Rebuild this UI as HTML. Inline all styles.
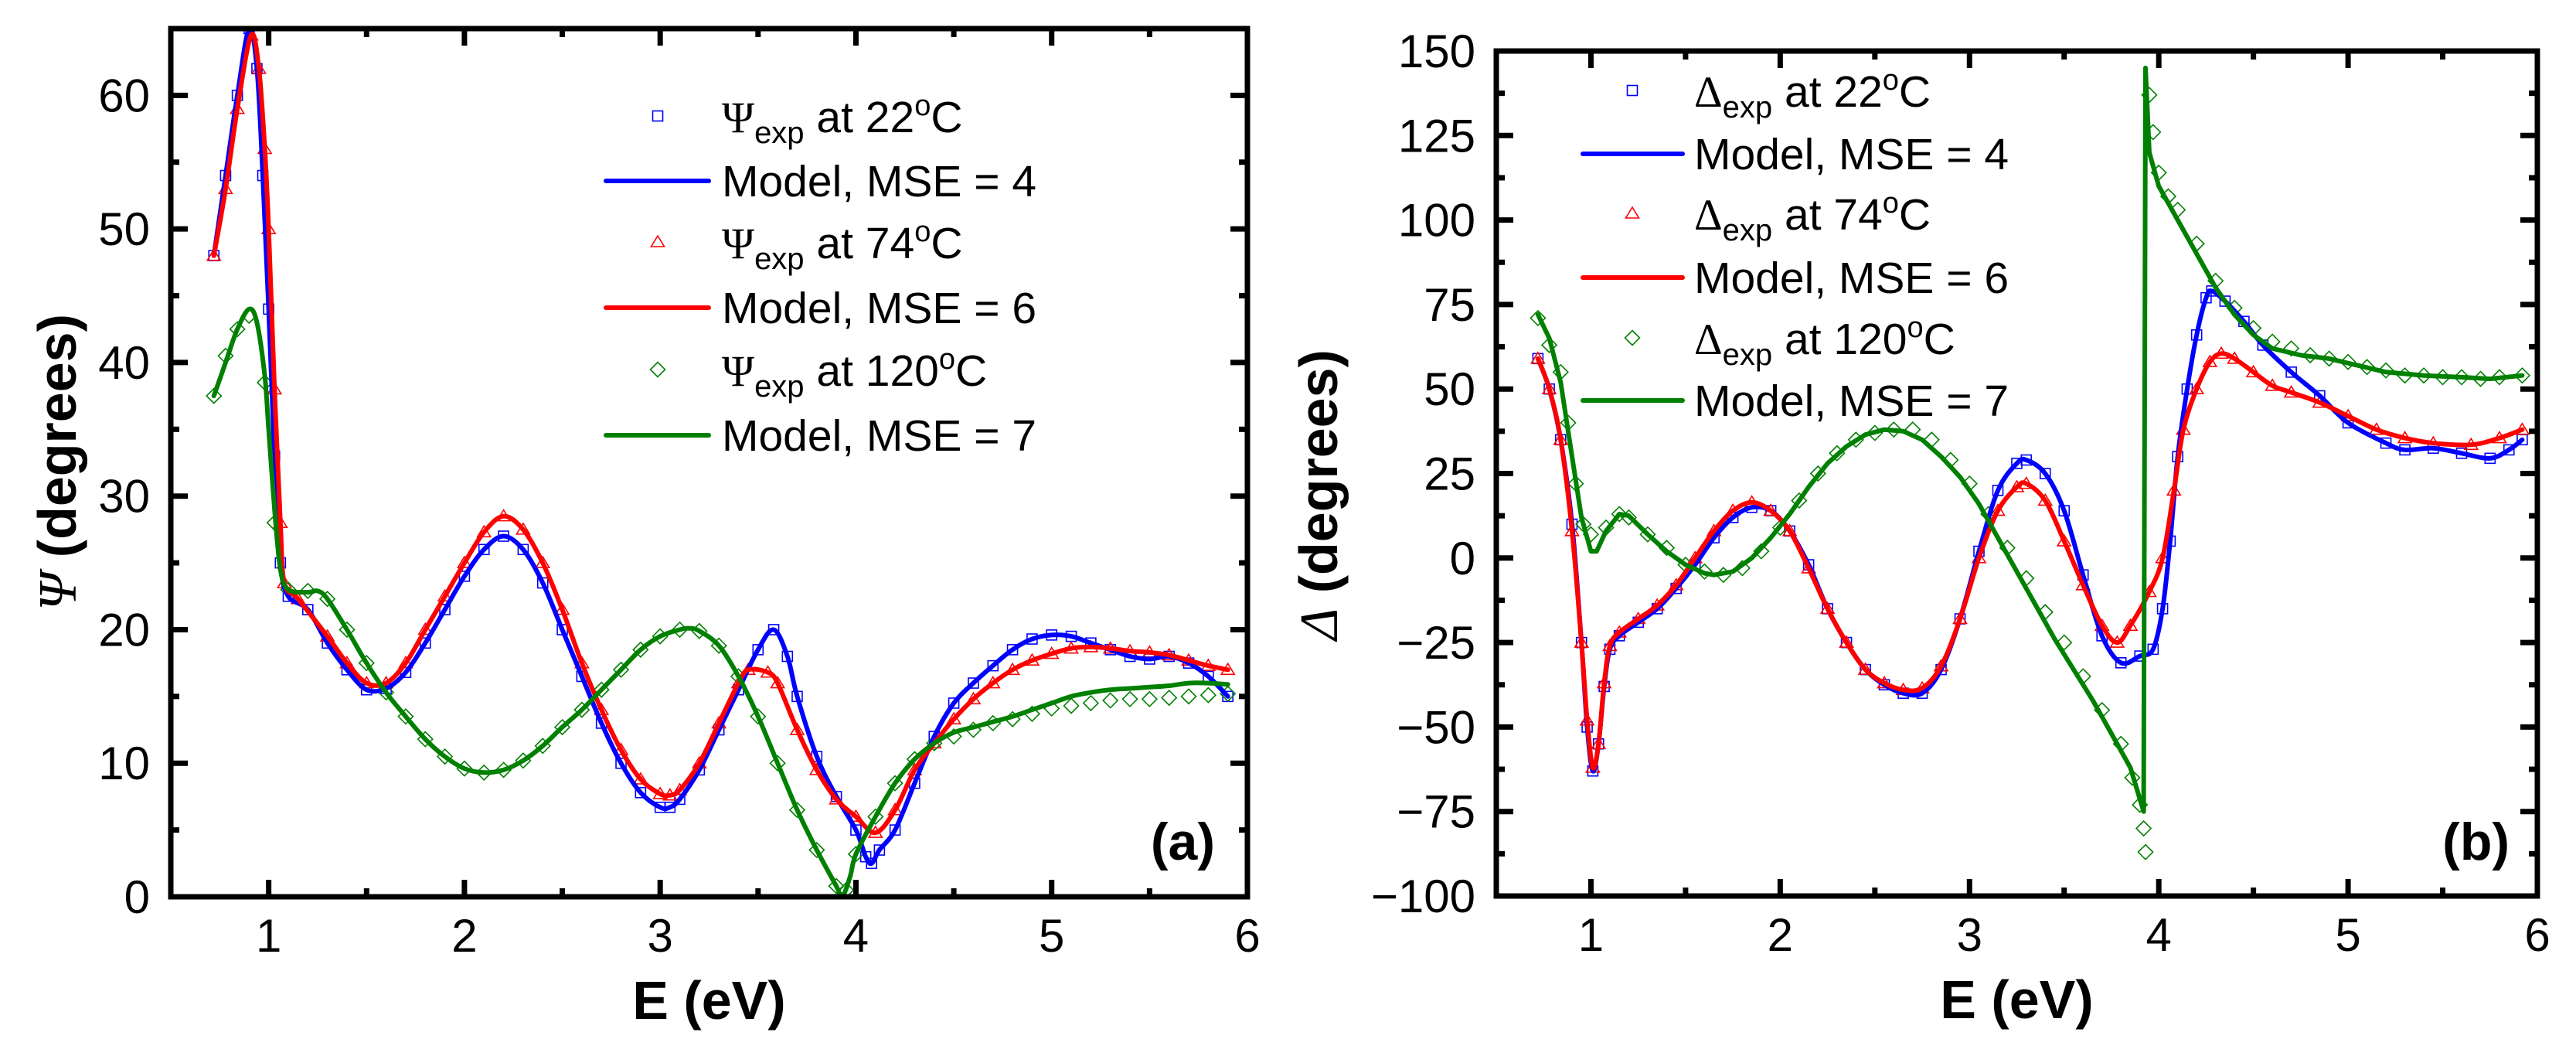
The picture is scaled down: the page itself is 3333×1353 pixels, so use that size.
<!DOCTYPE html>
<html><head><meta charset="utf-8"><title>Ellipsometry Psi and Delta</title>
<style>
html,body{margin:0;padding:0;background:#fff;}
svg{display:block;}
text{font-family:"Liberation Sans",Arial,sans-serif;fill:#000;}
</style></head>
<body>
<svg id="chart" xmlns="http://www.w3.org/2000/svg" width="3333" height="1353" viewBox="0 0 3333 1353"></svg>
<script>
// ---------- Panel (a) data: Psi ----------
const psiE22 = [0.72,0.78,0.84,0.90,0.94,0.97,1.0,1.03,1.06,1.1,1.2,1.3,1.4,1.5,1.6,1.7,1.8,1.9,2.0,2.1,2.2,2.3,2.4,2.5,2.6,2.7,2.8,2.9,3.0,3.05,3.1,3.2,3.3,3.4,3.5,3.58,3.65,3.7,3.8,3.9,4.0,4.05,4.08,4.12,4.2,4.3,4.4,4.5,4.6,4.7,4.8,4.9,5.0,5.1,5.2,5.3,5.4,5.5,5.6,5.7,5.8,5.9];
const psi22 = [48,54,60,65,62,54,44,33,25,22.5,21.5,19,17,15.5,15.6,16.8,19,21.5,24,26,27,26,23.5,20,16.5,13,10,7.8,6.7,6.7,7.3,9.5,12.5,15.5,18.5,20,18,15,10.5,7.5,5,3,2.5,3.5,5,8.5,12,14.5,16,17.3,18.5,19.3,19.6,19.5,19,18.5,18,17.8,18,17.5,16.5,15];
const psiE74 = [0.72,0.78,0.84,0.91,0.95,0.98,1.0,1.03,1.06,1.08,1.15,1.3,1.4,1.5,1.6,1.7,1.8,1.9,2.0,2.1,2.2,2.3,2.4,2.5,2.6,2.7,2.8,2.9,3.0,3.05,3.1,3.2,3.3,3.4,3.45,3.55,3.6,3.7,3.8,3.9,4.0,4.1,4.2,4.3,4.4,4.5,4.6,4.7,4.8,4.9,5.0,5.1,5.2,5.3,5.4,5.5,5.6,5.7,5.8,5.9];
const psi74 = [48,53,59,64.5,62,56,50,38,28,23.5,22.3,19.5,17.5,16,16,17.5,20,22.5,25,27.3,28.5,27.5,25,21.5,17.5,14,11,8.8,7.7,7.6,8,10,13,16,17,16.8,16,12.5,9.5,7.3,6,4.8,6.5,9.5,11.5,13.3,14.8,16,17,17.7,18.2,18.6,18.7,18.6,18.4,18.3,18.1,17.7,17.3,17];
const psiE120 = [0.72,0.78,0.84,0.9,0.94,0.98,1.0,1.03,1.06,1.1,1.2,1.25,1.3,1.4,1.5,1.6,1.7,1.8,1.9,2.0,2.1,2.2,2.3,2.4,2.5,2.6,2.7,2.8,2.9,3.0,3.1,3.15,3.2,3.3,3.4,3.5,3.6,3.7,3.8,3.9,3.93,3.97,4.0,4.1,4.2,4.3,4.4,4.5,4.6,4.7,4.8,4.9,5.0,5.1,5.2,5.3,5.4,5.5,5.6,5.7,5.8,5.9];
const psi120 = [37.5,40,42.5,44,43,39,35,29,24.5,23,22.8,22.9,22.3,20,17.5,15.3,13.5,11.8,10.5,9.6,9.3,9.5,10.2,11.3,12.7,14,15.5,17,18.5,19.5,20,20.1,19.9,18.8,16.5,13.5,10,6.5,3.5,0.8,0,1.5,3.2,6,8.5,10.3,11.5,12.3,12.7,13.1,13.5,14,14.5,15,15.3,15.5,15.6,15.7,15.8,16,16,15.9];
const psiExpE120 = [0.72,0.78,0.84,0.9,0.98,1.03,1.1,1.2,1.3,1.4,1.5,1.6,1.7,1.8,1.9,2.0,2.1,2.2,2.3,2.4,2.5,2.6,2.7,2.8,2.9,3.0,3.1,3.2,3.3,3.4,3.5,3.6,3.7,3.8,3.9,3.95,4.0,4.1,4.2,4.3,4.4,4.5,4.6,4.7,4.8,4.9,5.0,5.1,5.2,5.3,5.4,5.5,5.6,5.7,5.8,5.9];
const psiExp120 = [37.5,40.5,42.5,43.5,38.5,28,23,22.9,22.3,20,17.5,15.3,13.5,11.8,10.5,9.6,9.3,9.5,10.2,11.3,12.7,14,15.5,17,18.5,19.5,20,19.9,18.8,16.5,13.5,10,6.5,3.5,0.8,0.5,3.2,6,8.5,10.3,11.5,12,12.5,13,13.3,13.7,14.1,14.3,14.5,14.7,14.8,14.8,14.9,15,15.1,15.2];

// ---------- Panel (b) data: Delta ----------
const delE22 = [0.72,0.78,0.84,0.9,0.95,0.98,1.01,1.04,1.07,1.1,1.15,1.25,1.35,1.45,1.55,1.65,1.75,1.85,1.95,2.05,2.15,2.25,2.35,2.45,2.55,2.65,2.75,2.85,2.95,3.05,3.15,3.25,3.3,3.4,3.5,3.6,3.7,3.8,3.9,3.97,4.02,4.06,4.1,4.15,4.2,4.25,4.28,4.35,4.45,4.55,4.7,4.85,5.0,5.2,5.3,5.45,5.6,5.75,5.85,5.92];
const del22 = [59,50,35,10,-25,-50,-63,-55,-38,-27,-23,-19,-15,-9,-2,6,12,15,14,8,-2,-15,-25,-33,-37.5,-40,-40,-33,-18,2,20,28,29,25,14,-5,-23,-31,-29,-27,-15,5,30,50,66,77,79,76,70,63,55,48,40,34,32,32.5,31,29.5,32,35];
const delE74 = [0.72,0.78,0.84,0.9,0.95,0.98,1.01,1.04,1.07,1.1,1.15,1.25,1.35,1.45,1.55,1.65,1.75,1.85,1.95,2.05,2.15,2.25,2.35,2.45,2.55,2.65,2.75,2.85,2.95,3.05,3.15,3.25,3.3,3.4,3.5,3.6,3.7,3.78,3.85,3.95,4.02,4.08,4.13,4.2,4.27,4.33,4.4,4.5,4.6,4.7,4.85,5.0,5.15,5.3,5.45,5.65,5.8,5.92];
const del74 = [59,50,35,8,-25,-48,-62,-55,-37,-26,-22,-18,-14,-8,0,8,14,16.5,14,8,-3,-15,-25,-33,-37,-39,-38.5,-32,-18,0,14,21,22,17,5,-8,-20,-25,-20,-10,0,20,38,50,58,60.5,59,55,51,49,46,42,38,35.5,34,33.5,35.5,38];
const delE120 = [0.72,0.78,0.84,0.9,0.95,1.0,1.03,1.08,1.15,1.2,1.3,1.4,1.5,1.6,1.65,1.75,1.85,1.95,2.05,2.15,2.25,2.35,2.45,2.55,2.65,2.75,2.85,2.95,3.05,3.15,3.25,3.35,3.45,3.55,3.65,3.75,3.85,3.92,3.93,3.95,4.0,4.1,4.2,4.3,4.4,4.5,4.6,4.75,4.9,5.05,5.2,5.4,5.6,5.75,5.92];
const del120 = [72,65,52,30,12,2,2,8,13,12.5,7,2,-2,-4.5,-5,-4,0,6,13,21,28,33,36.5,38,37.5,35,30,24,16,6,-4,-14,-24,-33,-42,-52,-62,-75,145,120,110,100,90,80,72,66,62,60,59,57,55,54,53.5,53,54];
const delExpE120 = [0.72,0.78,0.84,0.88,0.92,0.96,1.0,1.08,1.15,1.2,1.3,1.4,1.5,1.6,1.7,1.8,1.9,2.0,2.1,2.2,2.3,2.4,2.5,2.6,2.7,2.8,2.9,3.0,3.1,3.2,3.3,3.4,3.5,3.6,3.7,3.8,3.86,3.9,3.92,3.93,3.95,3.97,4.0,4.05,4.1,4.2,4.3,4.4,4.5,4.6,4.7,4.8,4.9,5.0,5.1,5.2,5.3,5.4,5.5,5.6,5.7,5.8,5.92];
const delExp120 = [71,63,55,40,22,10,7,9,13,12,7,3,-2,-4,-5,-3,2,9,17,25,31,35,37,38,38,35,29,22,13,3,-6,-16,-25,-35,-45,-55,-65,-73,-80,-87,137,126,114,107,103,93,82,74,68,64,62,60,59,58,56.5,55.5,54,54,53.5,53.5,53,53.5,54];

// ---------- Axis tick values ----------
const xTicks = [1,2,3,4,5,6];
const psiTicks = [0,10,20,30,40,50,60];
const delTicks = [-100,-75,-50,-25,0,25,50,75,100,125,150];

const NS = 'http://www.w3.org/2000/svg';
const svg = document.getElementById('chart');
function mk(tag, attrs, parent){
  const el = document.createElementNS(NS, tag);
  for (const k in attrs) el.setAttribute(k, attrs[k]);
  (parent||svg).appendChild(el);
  return el;
}
function axisFns(p){
  return {
    x: e => p.left + (e - p.xmin) / (p.xmax - p.xmin) * (p.right - p.left),
    y: v => p.bottom - (v - p.ymin) / (p.ymax - p.ymin) * (p.bottom - p.top)
  };
}
function smoothPath(pts){
  let d = 'M' + pts[0][0].toFixed(1) + ',' + pts[0][1].toFixed(1);
  for (let i = 0; i < pts.length - 1; i++){
    const p0 = pts[i-1] || pts[i], p1 = pts[i], p2 = pts[i+1], p3 = pts[i+2] || p2;
    const c1 = [p1[0] + (p2[0]-p0[0])/6, p1[1] + (p2[1]-p0[1])/6];
    const c2 = [p2[0] - (p3[0]-p1[0])/6, p2[1] - (p3[1]-p1[1])/6];
    d += 'C' + c1[0].toFixed(1)+','+c1[1].toFixed(1)+' '+c2[0].toFixed(1)+','+c2[1].toFixed(1)+' '+p2[0].toFixed(1)+','+p2[1].toFixed(1);
  }
  return d;
}
function linPath(pts){
  return 'M' + pts.map(p => p[0].toFixed(1)+','+p[1].toFixed(1)).join('L');
}
function marker(g, type, cx, cy, color){
  let el;
  if (type === 'square'){
    el = mk('rect', {x: cx-6.5, y: cy-6.5, width: 13, height: 13, fill: 'none', stroke: color, 'stroke-width': 1.6}, g);
  } else if (type === 'triangle'){
    el = mk('polygon', {points: `${cx},${cy-8} ${cx-8.5},${cy+6} ${cx+8.5},${cy+6}`, fill: 'none', stroke: color, 'stroke-width': 1.6}, g);
  } else {
    el = mk('polygon', {points: `${cx},${cy-9.5} ${cx+9.5},${cy} ${cx},${cy+9.5} ${cx-9.5},${cy}`, fill: 'none', stroke: color, 'stroke-width': 1.6}, g);
  }
  return el;
}

function drawPanel(p){
  const A = axisFns(p);
  const g = mk('g', {});
  
  
  // clip
  const cid = 'clip-' + p.name;
  const cp = mk('clipPath', {id: cid}, g);
  mk('rect', {x: p.left, y: p.top, width: p.right - p.left, height: p.bottom - p.top}, cp);
  const plot = mk('g', {'clip-path': `url(#${cid})`}, g);
  
  

  // series: markers then lines
  p.series.forEach(s => {
    const mg = mk('g', {}, plot);
    
    
    for (let i = 0; i < s.expE.length; i++){
      const m = marker(mg, s.marker, A.x(s.expE[i]), A.y(s.expV[i]), s.color);
      
      
    }
  });
  p.series.forEach(s => {
    const pts = s.E.map((e, i) => [A.x(e), A.y(s.V[i])]);
    const path = mk('path', {d: s.linear ? linPath(pts) : smoothPath(pts), fill: 'none', stroke: s.color, 'stroke-width': 6, 'stroke-linejoin': 'round', 'stroke-linecap': 'round'}, plot);
    
    
  });

  // frame
  const fr = mk('rect', {x: p.left, y: p.top, width: p.right - p.left, height: p.bottom - p.top, fill: 'none', stroke: '#000', 'stroke-width': 7}, g);
  
  

  // x ticks
  const xt = mk('g', {}, g);
  
  
  for (let v = p.xmin; v <= p.xmax + 1e-9; v += 0.5){
    const isMajor = Math.abs(v - Math.round(v)) < 1e-9;
    const len = isMajor ? 22 : 11;
    const x = A.x(v);
    mk('line', {x1: x, y1: p.bottom, x2: x, y2: p.bottom - len, stroke: '#000', 'stroke-width': 7}, xt);
    mk('line', {x1: x, y1: p.top, x2: x, y2: p.top + len, stroke: '#000', 'stroke-width': 7}, xt);
  }
  xTicks.forEach(v => {
    const t = mk('text', {x: A.x(v), y: p.bottom + 71, 'text-anchor': 'middle', 'font-size': 60}, g);
    t.textContent = v;
    
    
  });
  // y ticks
  const yt = mk('g', {}, g);
  
  
  const step = p.yTicks[1] - p.yTicks[0];
  for (let v = p.ymin; v <= p.ymax + 1e-9; v += step / 2){
    const isMajor = p.yTicks.some(t => Math.abs(t - v) < 1e-9);
    const len = isMajor ? 22 : 11;
    const y = A.y(v);
    mk('line', {x1: p.left, y1: y, x2: p.left + len, y2: y, stroke: '#000', 'stroke-width': 7}, yt);
    mk('line', {x1: p.right, y1: y, x2: p.right - len, y2: y, stroke: '#000', 'stroke-width': 7}, yt);
  }
  p.yTicks.forEach(v => {
    const t = mk('text', {x: p.left - 27, y: A.y(v) + 21, 'text-anchor': 'end', 'font-size': 60}, g);
    t.textContent = v < 0 ? '\u2212' + Math.abs(v) : String(v);
    
    
  });
  // axis titles
  const xtitle = mk('text', {x: (p.left + p.right) / 2, y: p.bottom + 158, 'text-anchor': 'middle', 'font-size': 70, 'font-weight': 'bold'}, g);
  xtitle.textContent = 'E (eV)';
  
  
  const ytitle = mk('text', {x: 0, y: 0, 'text-anchor': 'middle', 'font-size': 70, 'font-weight': 'bold', transform: `translate(${p.ytitleX},${p.ytitleY}) rotate(-90)`}, g);
  const sym = mk('tspan', {'font-family': '"Liberation Serif", serif', 'font-weight': 'normal', 'font-style': 'italic'}, ytitle);
  sym.textContent = p.sym;
  const rest = mk('tspan', {}, ytitle);
  rest.textContent = ' (degrees)';
  
  
  // panel label
  const pl = mk('text', {x: p.labelX, y: 1112, 'text-anchor': 'end', 'font-size': 68, 'font-weight': 'bold'}, g);
  pl.textContent = p.label;
  
  

  // legend
  const lg = mk('g', {}, g);
  
  
  p.series.forEach((s, i) => {
    const yM = p.legY[2*i], yL = p.legY[2*i+1];
    const e1 = mk('g', {}, lg);
    
    
    marker(e1, s.marker, p.legMX, yM, s.color);
    const t1 = mk('text', {x: p.legTX, y: yM + 21, 'font-size': 57}, e1);
    const a = mk('tspan', {'font-family': '"Liberation Serif", serif'}, t1); a.textContent = p.sym;
    const b = mk('tspan', {'font-size': 40, dy: 14}, t1); b.textContent = 'exp';
    const c = mk('tspan', {dy: -14}, t1); c.textContent = ' at ' + s.temp;
    const d = mk('tspan', {'font-size': 38, dy: -22}, t1); d.textContent = 'o';
    const e = mk('tspan', {dy: 22}, t1); e.textContent = 'C';
    const e2 = mk('g', {}, lg);
    
    
    mk('line', {x1: p.legL1, y1: yL, x2: p.legL2, y2: yL, stroke: s.color, 'stroke-width': 6, 'stroke-linecap': 'round'}, e2);
    const t2 = mk('text', {x: p.legTX, y: yL + 20, 'font-size': 57}, e2);
    t2.textContent = 'Model, MSE = ' + s.mse;
  });
}

drawPanel({
  name: 'panel-a-psi', left: 221, right: 1614, top: 37, bottom: 1160,
  xmin: 0.5, xmax: 6, ymin: 0, ymax: 65, yTicks: psiTicks, sym: '\u03A8',
  ytitleX: 98, ytitleY: 598, label: '(a)', labelX: 1572,
  legMX: 851, legL1: 784, legL2: 917, legTX: 934, legY: [150,234,313,398,478,563],
  series: [
    {key: 'psi-22c', temp: '22', mse: 4, color: '#0000ff', marker: 'square', E: psiE22, V: psi22, expE: psiE22, expV: psi22},
    {key: 'psi-74c', temp: '74', mse: 6, color: '#ff0000', marker: 'triangle', E: psiE74, V: psi74, expE: psiE74, expV: psi74},
    {key: 'psi-120c', temp: '120', mse: 7, color: '#008000', marker: 'diamond', E: psiE120, V: psi120, expE: psiExpE120, expV: psiExp120}
  ]
});
drawPanel({
  name: 'panel-b-delta', left: 1936, right: 3283, top: 66, bottom: 1159,
  xmin: 0.5, xmax: 6, ymin: -100, ymax: 150, yTicks: delTicks, sym: '\u0394',
  ytitleX: 1730, ytitleY: 640, label: '(b)', labelX: 3247,
  legMX: 2112, legL1: 2048, legL2: 2177, legTX: 2192, legY: [117,199,276,359,437,518],
  series: [
    {key: 'delta-22c', temp: '22', mse: 4, color: '#0000ff', marker: 'square', E: delE22, V: del22, expE: delE22, expV: del22},
    {key: 'delta-74c', temp: '74', mse: 6, color: '#ff0000', marker: 'triangle', E: delE74, V: del74, expE: delE74, expV: del74},
    {key: 'delta-120c', temp: '120', mse: 7, color: '#008000', marker: 'diamond', E: delE120, V: del120, expE: delExpE120, expV: delExp120, linear: true}
  ]
});
</script>
</body></html>
